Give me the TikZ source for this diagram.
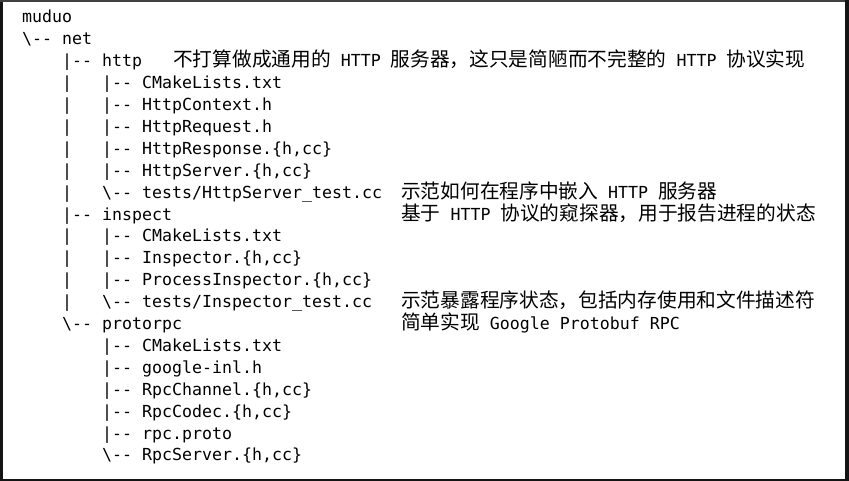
\documentclass[tikz,border=0pt]{standalone}
\usepackage{fontspec}
\setmonofont{DejaVu Sans Mono}
\newfontfamily\cjkfont{Noto Sans CJK SC}
\newcommand\bsl{\textbackslash}
\newcommand\dd{-{}-}
\newcommand\zh[1]{{\cjkfont\fontsize{19.7pt}{22pt}\selectfont #1}}
\begin{document}
\begin{tikzpicture}[x=1pt,y=1pt,
  row/.style={anchor=base west,inner sep=0pt,font=\ttfamily\fontsize{16.6pt}{20pt}\selectfont},
  note/.style={anchor=base west,inner sep=0pt,font=\ttfamily\fontsize{16.6pt}{20pt}\selectfont}]
\useasboundingbox (0,0) rectangle (849,481);
\fill[white] (0,0) rectangle (849,481);
% frame strips
\fill[black!92] (0,0) rectangle (3,481);
\fill[black!75] (0,479) rectangle (849,481);
\fill[black!92] (845,0) rectangle (849,481);
\fill[black!92] (0,0) rectangle (849,2);
% tree rows
\node[row] (r0)  at (22,{458-21.9*0})  {muduo};
\node[row] (r1)  at (22,{458-21.9*1})  {\bsl\dd{} net};
\node[row] (r2)  at (62,{458-21.9*2})  {|\dd{} http};
\node[row] (r3)  at (62,{458-21.9*3})  {|\hspace{30pt}|\dd{} CMakeLists.txt};
\node[row] (r4)  at (62,{458-21.9*4})  {|\hspace{30pt}|\dd{} HttpContext.h};
\node[row] (r5)  at (62,{458-21.9*5})  {|\hspace{30pt}|\dd{} HttpRequest.h};
\node[row] (r6)  at (62,{458-21.9*6})  {|\hspace{30pt}|\dd{} HttpResponse.\{h,cc\}};
\node[row] (r7)  at (62,{458-21.9*7})  {|\hspace{30pt}|\dd{} HttpServer.\{h,cc\}};
\node[row] (r8)  at (62,{458-21.9*8})  {|\hspace{30pt}\bsl\dd{} tests/HttpServer\_test.cc};
\node[row] (r9)  at (62,{458-21.9*9})  {|\dd{} inspect};
\node[row] (r10) at (62,{458-21.9*10}) {|\hspace{30pt}|\dd{} CMakeLists.txt};
\node[row] (r11) at (62,{458-21.9*11}) {|\hspace{30pt}|\dd{} Inspector.\{h,cc\}};
\node[row] (r12) at (62,{458-21.9*12}) {|\hspace{30pt}|\dd{} ProcessInspector.\{h,cc\}};
\node[row] (r13) at (62,{458-21.9*13}) {|\hspace{30pt}\bsl\dd{} tests/Inspector\_test.cc};
\node[row] (r14) at (62,{458-21.9*14}) {\bsl\dd{} protorpc};
\node[row] (r15) at (102,{458-21.9*15}) {|\dd{} CMakeLists.txt};
\node[row] (r16) at (102,{458-21.9*16}) {|\dd{} google-inl.h};
\node[row] (r17) at (102,{458-21.9*17}) {|\dd{} RpcChannel.\{h,cc\}};
\node[row] (r18) at (102,{458-21.9*18}) {|\dd{} RpcCodec.\{h,cc\}};
\node[row] (r19) at (102,{458-21.9*19}) {|\dd{} rpc.proto};
\node[row] (r20) at (102,{458-21.9*20}) {\bsl\dd{} RpcServer.\{h,cc\}};
% comments
\node[note] (c2)  at (173,{458-21.9*2})  {\zh{不打算做成通用的} HTTP \zh{服务器，这只是简陋而不完整的} HTTP \zh{协议实现}};
\node[note] (c8)  at (401,{458-21.9*8})  {\zh{示范如何在程序中嵌入} HTTP \zh{服务器}};
\node[note] (c9)  at (401,{458-21.9*9})  {\zh{基于} HTTP \zh{协议的窥探器，用于报告进程的状态}};
\node[note] (c13) at (401,{458-21.9*13}) {\zh{示范暴露程序状态，包括内存使用和文件描述符}};
\node[note] (c14) at (401,{458-21.9*14}) {\zh{简单实现} Google Protobuf RPC};
\end{tikzpicture}
\end{document}
